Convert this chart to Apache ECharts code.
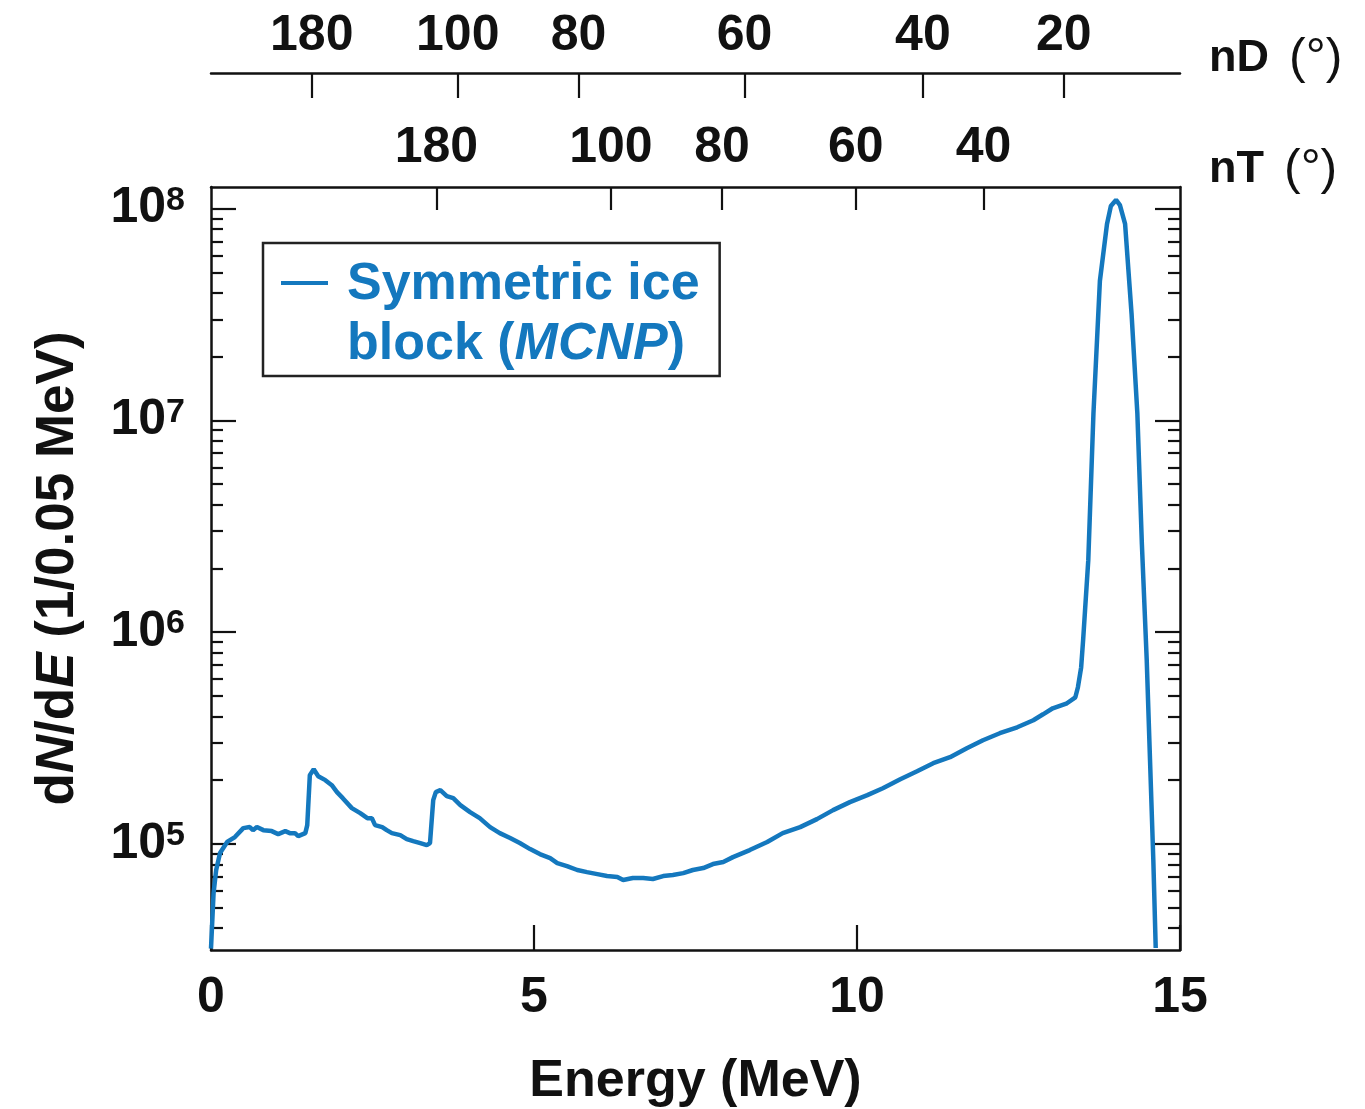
<!DOCTYPE html>
<html><head><meta charset="utf-8">
<script src="https://cdn.jsdelivr.net/npm/echarts@6/dist/echarts.min.js"></script>
<style>html,body{margin:0;padding:0;background:#fff}#c{width:1365px;height:1109px}</style>
</head><body><div id="c"></div>
<script>
// Energy (MeV)
const energy = [0.00,0.04,0.08,0.14,0.25,0.37,0.50,0.60,0.65,0.71,0.81,0.94,1.04,1.15,1.22,1.30,1.35,1.46,1.49,1.53,1.59,1.66,1.77,1.87,1.95,2.04,2.18,2.31,2.42,2.49,2.54,2.65,2.72,2.80,2.93,3.03,3.13,3.24,3.34,3.39,3.44,3.48,3.55,3.65,3.75,3.86,4.01,4.16,4.32,4.47,4.63,4.78,4.94,5.09,5.25,5.36,5.51,5.67,5.82,5.98,6.13,6.29,6.38,6.53,6.69,6.84,7.00,7.15,7.31,7.46,7.62,7.77,7.93,8.08,8.34,8.61,8.85,9.12,9.38,9.63,9.89,10.16,10.40,10.67,10.93,11.18,11.44,11.70,11.95,12.21,12.48,12.73,12.88,13.03,13.25,13.38,13.42,13.47,13.50,13.53,13.58,13.66,13.76,13.87,13.93,14.01,14.07,14.15,14.25,14.34,14.41,14.485,14.536,14.587,14.624];
// dN/dE (1/0.05 MeV)
const counts = [32000,58600,75200,90400,102000,107600,118600,120000,116000,120000,116000,114800,111100,114800,112300,112300,108700,112300,122500,211000,225000,208600,199800,189100,175400,164300,147400,139600,132200,132200,122500,119900,116000,112300,109900,105200,103000,100800,98600,100800,160700,175400,179200,167900,164300,152200,141100,132200,119900,112300,106400,100800,94400,89400,85600,81100,78500,75200,73500,71900,70400,69700,67400,68900,68900,68200,70400,71200,72700,75200,76800,80200,82000,86500,93400,101900,112300,119900,130800,144200,157300,169700,183100,201900,220300,240300,256500,282800,308500,332800,355200,383200,409000,436700,461000,492000,549000,682000,914000,1266000,2180000,10750000,45600000,84700000,103000000,110000000,104000000,84700000,31900000,10750000,2600000,736000,248000,83800,32200];

const seriesName = 'Symmetric ice block (MCNP)';
const xTickValues = [0, 5, 10, 15];
const yMajorTicks = [1e5, 1e6, 1e7, 1e8];
const yMinorTicks = [4e4,5e4,6e4,7e4,8e4,9e4,2e5,3e5,4e5,5e5,6e5,7e5,8e5,9e5,2e6,3e6,4e6,5e6,6e6,7e6,8e6,9e6,2e7,3e7,4e7,5e7,6e7,7e7,8e7,9e7];
// top axes: scattering angle labels and their energies
const nDAngles = [180, 100, 80, 60, 40, 20];
const nDEnergies = [1.56, 3.82, 5.69, 8.26, 11.02, 13.20];
const nTAngles = [180, 100, 80, 60, 40];
const nTEnergies = [3.49, 6.19, 7.91, 9.98, 11.96];

const FONT = '"Liberation Sans", Arial, Helvetica, sans-serif';
const BLACK = '#111';
const BLUE = '#1478be';
const AXW = 2.5;

function angleLabel(values, angles) {
  return function (v) {
    let best = 0, d = Infinity;
    values.forEach((e, i) => { const dd = Math.abs(e - v); if (dd < d) { d = dd; best = i; } });
    return String(angles[best]);
  };
}

const tickLabelStyle = { fontFamily: FONT, fontWeight: 'bold', fontSize: 50, color: BLACK };
const nameRich = {
  b: { fontFamily: FONT, fontWeight: 'bold', fontSize: 45, color: BLACK },
  n: { fontFamily: FONT, fontWeight: 'normal', fontSize: 50, color: BLACK, padding: [0, 0, 0, 20] }
};

const chart = echarts.init(document.getElementById('c'), null, { renderer: 'canvas' });
const logMin = 31500, logMax = 1.266e8;

function yAxisBase(gridIndex, position, ticks, len, showLine) {
  return {
    gridIndex: gridIndex,
    type: 'log', logBase: 10, min: logMin, max: logMax, position: position,
    axisLine: { show: showLine, onZero: false, lineStyle: { color: BLACK, width: AXW } },
    axisTick: { show: true, inside: true, length: len, customValues: ticks, lineStyle: { color: BLACK, width: 2.2 } },
    axisLabel: { show: false },
    splitLine: { show: false }, minorTick: { show: false }
  };
}

const yLeft = yAxisBase(0, 'left', yMajorTicks, 25, true);
yLeft.axisLabel = {
  show: true, customValues: yMajorTicks, margin: 26,
  formatter: v => '{m|10}{s|' + Math.round(Math.log10(v)) + '}',
  rich: {
    m: { fontFamily: FONT, fontWeight: 'bold', fontSize: 50, color: BLACK, lineHeight: 50 },
    s: { fontFamily: FONT, fontWeight: 'bold', fontSize: 34, color: BLACK, lineHeight: 25, verticalAlign: 'top' }
  }
};
yLeft.name = '{b|d}{bi|N}{b|/d}{bi|E}{b| (1/0.05 MeV)}';
yLeft.nameLocation = 'middle';
yLeft.nameRotate = 90;
yLeft.nameGap = 126;
yLeft.nameTextStyle = {
  rich: {
    b: { fontFamily: FONT, fontWeight: 'bold', fontSize: 53, color: BLACK },
    bi: { fontFamily: FONT, fontWeight: 'bold', fontStyle: 'italic', fontSize: 53, color: BLACK }
  }
};

const gridBox = { left: 211, right: 185, top: 187, bottom: 159, containLabel: false, outerBoundsMode: 'none' };

const option = {
  backgroundColor: '#fff',
  animation: false,
  grid: [Object.assign({}, gridBox), Object.assign({}, gridBox)],
  legend: {
    left: 263, top: 243,
    data: [seriesName],
    icon: 'path://M0,0h47v4h-47z M60,67.99h1v0.01h-1z',
    itemWidth: 61, itemHeight: 68,
    itemStyle: { borderWidth: 0 },
    formatter: () => '{b|Symmetric ice}\n{b|block (}{bi|MCNP}{b|)}',
    textStyle: {
      lineHeight: 60,
      rich: {
        b: { fontFamily: FONT, fontWeight: 'bold', fontSize: 52, color: BLUE, lineHeight: 60 },
        bi: { fontFamily: FONT, fontWeight: 'bold', fontStyle: 'italic', fontSize: 52, color: BLUE, lineHeight: 60 }
      }
    },
    borderColor: '#222', borderWidth: 2.5,
    padding: [12, 20, 1, 18],
    backgroundColor: '#fff'
  },
  xAxis: [
    {
      gridIndex: 0, type: 'value', position: 'bottom', min: 0, max: 15, interval: 5,
      axisLine: { show: true, onZero: false, lineStyle: { color: BLACK, width: AXW } },
      axisTick: { inside: true, length: 25, customValues: xTickValues, lineStyle: { color: BLACK, width: 2.2 } },
      axisLabel: Object.assign({ customValues: xTickValues, margin: 23 }, tickLabelStyle),
      splitLine: { show: false },
      name: 'Energy (MeV)', nameLocation: 'middle', nameGap: 106,
      nameTextStyle: { fontFamily: FONT, fontWeight: 'bold', fontSize: 52, color: BLACK }
    },
    {
      gridIndex: 0, type: 'value', position: 'top', min: 0, max: 15,
      axisLine: { show: true, onZero: false, lineStyle: { color: BLACK, width: AXW } },
      axisTick: { inside: true, length: 23, customValues: nTEnergies, lineStyle: { color: BLACK, width: 2.2 } },
      axisLabel: Object.assign({ customValues: nTEnergies, margin: 14, formatter: angleLabel(nTEnergies, nTAngles) }, tickLabelStyle),
      splitLine: { show: false },
      name: '{b|nT}{n|(°)}', nameLocation: 'end', nameGap: 29,
      nameTextStyle: { rich: nameRich, padding: [0, 0, 34, 0], verticalAlign: 'middle' }
    },
    {
      gridIndex: 0, type: 'value', position: 'top', offset: 114, min: 0, max: 15,
      axisLine: { show: true, onZero: false, lineStyle: { color: BLACK, width: AXW } },
      axisTick: { inside: true, length: 25, customValues: nDEnergies, lineStyle: { color: BLACK, width: 2.2 } },
      axisLabel: Object.assign({ customValues: nDEnergies, margin: 12, formatter: angleLabel(nDEnergies, nDAngles) }, tickLabelStyle),
      splitLine: { show: false },
      name: '{b|nD}{n|(°)}', nameLocation: 'end', nameGap: 29,
      nameTextStyle: { rich: nameRich, padding: [0, 0, 28, 0], verticalAlign: 'middle' }
    },
    {
      gridIndex: 1, type: 'value', position: 'bottom', min: 0, max: 15, show: false
    }
  ],
  yAxis: [
    yLeft,
    yAxisBase(0, 'right', yMajorTicks, 25, true),
    yAxisBase(1, 'left', yMinorTicks, 12, false),
    yAxisBase(1, 'right', yMinorTicks, 12, false)
  ],
  series: [{
    name: seriesName, type: 'line', xAxisIndex: 0, yAxisIndex: 0,
    data: energy.map((e, i) => [e, counts[i]]),
    showSymbol: false, symbol: 'none', clip: true,
    lineStyle: { color: BLUE, width: 4.5 },
    itemStyle: { color: BLUE }
  }]
};
chart.setOption(option);
</script></body></html>
